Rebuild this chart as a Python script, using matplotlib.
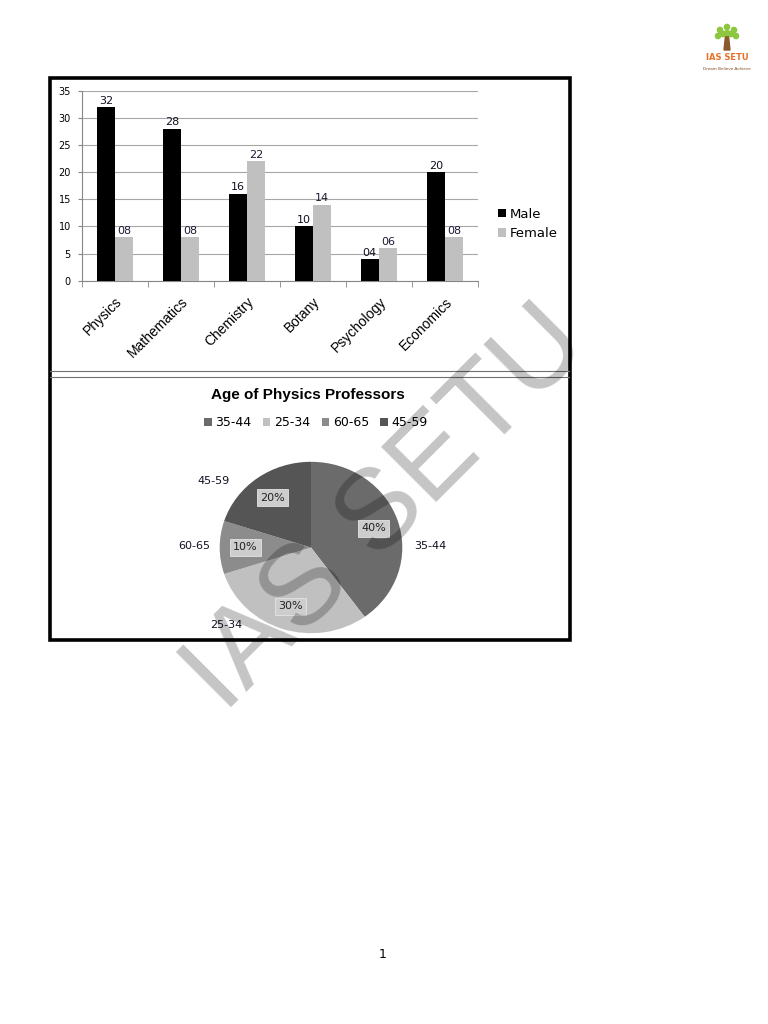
import matplotlib
matplotlib.use("Agg")
import matplotlib.pyplot as plt
import numpy as np
from matplotlib.patches import Rectangle, Circle, Polygon

# Daten Balkendiagramm
faecher = ["Physics", "Mathematics", "Chemistry", "Botany", "Psychology", "Economics"]
maennlich = [32, 28, 16, 10, 4, 20]
weiblich = [8, 8, 22, 14, 6, 8]

# Daten Kreisdiagramm
alter = ["35-44", "25-34", "60-65", "45-59"]
anteil = [40, 30, 10, 20]
pie_farben = ["#6b6b6b", "#c0c0c0", "#8c8c8c", "#555555"]

W, H = 768, 1024
fig = plt.figure(figsize=(W / 100, H / 100), dpi=100)


def rect(l, t, r, b):
    # Pixel (oben links) -> figure coords
    return [l / W, 1 - b / H, (r - l) / W, (b - t) / H]


# ---------------- Balkendiagramm ----------------
ax = fig.add_axes(rect(82, 90.7, 478, 280.7))
x = np.arange(len(faecher))
bw = 0.28
b1 = ax.bar(x - bw / 2, maennlich, bw, color="black", label="Male", zorder=3)
b2 = ax.bar(x + bw / 2, weiblich, bw, color="#c0c0c0", label="Female", zorder=3)
ax.bar_label(b1, labels=["%02d" % v for v in maennlich], padding=1, fontsize=8, color="#111122")
ax.bar_label(b2, labels=["%02d" % v for v in weiblich], padding=1, fontsize=8, color="#1a1a33")

ax.set_xlim(-0.5, len(faecher) - 0.5)
ax.set_ylim(0, 35)
ax.set_yticks(range(0, 36, 5))
ax.yaxis.grid(True, color="#a6a6a6", lw=0.8, zorder=0)
ax.set_axisbelow(True)
for s in ["top", "right"]:
    ax.spines[s].set_visible(False)
for s in ["left", "bottom"]:
    ax.spines[s].set_color("#868686")
ax.tick_params(axis="y", labelsize=7, length=3, color="#868686", pad=5)
ax.set_xticks(x)
ax.set_xticklabels(faecher, rotation=45, ha="right", rotation_mode="anchor",
                   fontsize=10, family="Liberation Sans")
ax.set_xticks(np.arange(-0.5, len(faecher)), minor=True)
ax.tick_params(axis="x", which="major", length=0, pad=10)
ax.tick_params(axis="x", which="minor", length=4, color="#868686")

fig.legend(handles=[b1, b2], labels=["Male", "Female"], loc="center left",
           bbox_to_anchor=(486 / W, 1 - 224 / H), frameon=False, fontsize=9.5,
           handlelength=0.6, handleheight=0.6, handletextpad=0.3, labelspacing=0.5)

# ---------------- Kreisdiagramm (leicht elliptisch wie im Original) ----------------
cx, cy, Rx, Ry = 311, 547.5, 91.3, 85.7
pax = fig.add_axes(rect(cx - 150, cy - 150, cx + 150, cy + 150))
wedges, texte, pct = pax.pie(anteil, colors=pie_farben, startangle=90, counterclock=False,
                             autopct="%d%%", pctdistance=0.72, radius=1,
                             textprops=dict(fontsize=8, color="#222222"))
for t in pct:
    t.set_bbox(dict(boxstyle="square,pad=0.3", fc="#cdcdcd", ec="#e4e4e4", lw=0.6))
pax.set_aspect("auto")
pax.set_xlim(-150 / Rx, 150 / Rx)
pax.set_ylim(-150 / Ry, 150 / Ry)
pax.axis("off")

# aussenliegende Beschriftungen (Positionen wie im Original)
label_pos = {"35-44": (1.31, 0.02), "25-34": (-0.93, -0.90),
             "60-65": (-1.28, 0.02), "45-59": (-1.07, 0.78)}
for name in alter:
    px, py = label_pos[name]
    pax.text(px, py, name, ha="center", va="center", fontsize=8, color="#111122")

fig.text(308 / W, 1 - 395 / H, "Age of Physics Professors", ha="center", va="center",
         fontsize=11, fontweight="bold", family="Liberation Sans")
fig.legend(handles=wedges, labels=alter, loc="center", ncol=4,
           bbox_to_anchor=(316 / W, 1 - 423 / H), frameon=False, fontsize=9,
           handlelength=0.6, handleheight=0.6, handletextpad=0.3, columnspacing=0.9)

# ---------------- Rahmen, Wasserzeichen, Logo ----------------
ov = fig.add_axes([0, 0, 1, 1], zorder=10)
ov.set_xlim(0, W)
ov.set_ylim(H, 0)
ov.axis("off")
ov.patch.set_alpha(0)
ov.add_patch(Rectangle((50, 77.5), 519.5, 562.5, fill=False, ec="black", lw=2.6))
ov.plot([50, 569], [371, 371], color="#707070", lw=0.8)
ov.plot([50, 569], [377, 377], color="#707070", lw=0.8)

ov.text(224, 714, "IAS SETU", rotation=45, rotation_mode="anchor", ha="left", va="baseline",
        fontsize=82, family="Liberation Sans", color="black", alpha=0.23)

# kleines Logo oben rechts
ov.add_patch(Polygon([[724, 50], [730, 50], [728.5, 36], [725.5, 36]], color="#8b5a2b"))
for dx, dy in [(-7, -8), (0, -11), (7, -8), (-9, -2), (9, -2), (-4, -4), (4, -4), (0, -5)]:
    ov.add_patch(Circle((727 + dx, 38 + dy), 2.6, color="#8dc63f"))
ov.text(727, 57, "IAS SETU", ha="center", va="center", fontsize=6, fontweight="bold", color="#e8702a")
ov.text(727, 69, "Dream Believe Achieve", ha="center", va="center", fontsize=3, color="#7a4a1a")

ov.text(383, 955, "1", ha="center", va="center", fontsize=9)

fig.savefig("out.png", dpi=100)
